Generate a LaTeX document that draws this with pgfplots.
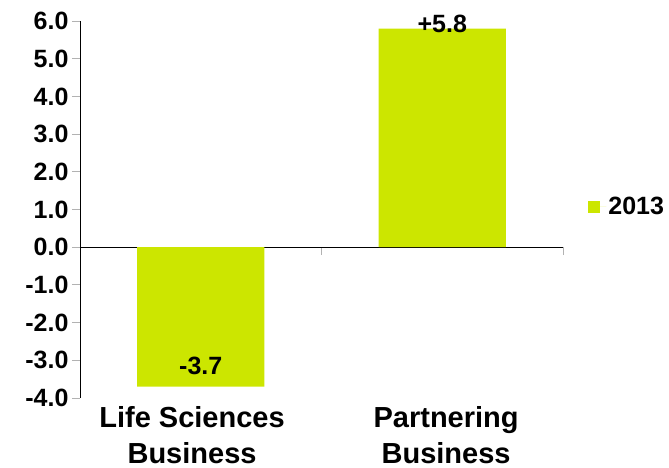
\documentclass[border=0pt]{standalone}
\usepackage{fontspec}
\setmainfont{Liberation Sans}
\usepackage{pgfplots}
\pgfplotsset{compat=1.18}
\definecolor{barc}{RGB}{204,230,0}
\begin{document}
\begin{tikzpicture}
\useasboundingbox (-80pt,-69pt) rectangle (589pt,398pt);
% category labels axis
\begin{axis}[
 at={(0,0)}, anchor=south west,
 scale only axis, width=483pt, height=377pt,
 ymin=-4, ymax=6, xmin=-0.5, xmax=1.5,
 axis y line=none, axis x line*=bottom,
 x axis line style={draw=none},
 xtick={-0.036,1.016},
 xticklabels={{Life Sciences\\Business},{Partnering\\Business}},
 xticklabel style={align=center, inner sep=0pt, font=\bfseries\fontsize{29}{36}\selectfont, yshift=-8pt},
 xtick style={draw=none},
]
\end{axis}
\begin{axis}[
 at={(0,0)}, anchor=south west,
 scale only axis, width=483pt, height=377pt,
 ybar, bar width=0.526,
 ymin=-4, ymax=6, ytick={-4,-3,...,6},
 xmin=-0.5, xmax=1.5, xtick={-0.5,0.5,1.5}, xticklabels={},
 axis y line*=left, axis x line*=middle,
 x axis line style={black, line width=0.9pt},
 y axis line style={black, line width=0.9pt},
 tick align=outside, major tick length=8pt,
 ytick style={gray!60, line width=0.9pt},
 xtick style={gray!60, line width=0.9pt},
 /pgf/number format/assume math mode=true,
 yticklabel style={font=\bfseries\fontsize{25}{25}\selectfont, /pgf/number format/.cd, fixed, fixed zerofill, precision=1},
 legend style={at={(1.046,0.507)}, anchor=west, draw=none, fill=none, font=\bfseries\fontsize{25}{25}\selectfont},
]
\addplot[fill=barc, draw=none,
 legend image code/.code={\fill[barc] (0pt,-6pt) rectangle (12pt,6pt); \path (0pt,0pt) -- (18pt,0pt);},
 nodes near coords, point meta=explicit symbolic,
 nodes near coords align={center},
 visualization depends on={rawy \as \myrawy},
 every node near coord/.append style={font=\bfseries\fontsize{25}{25}\selectfont, black, yshift={ifthenelse(\myrawy>0,5,21)*1pt}}]
 coordinates {(0,-3.7) [-3.7] (1,5.8) [+5.8]};
\addlegendentry{2013}
\end{axis}
\end{tikzpicture}
\end{document}
